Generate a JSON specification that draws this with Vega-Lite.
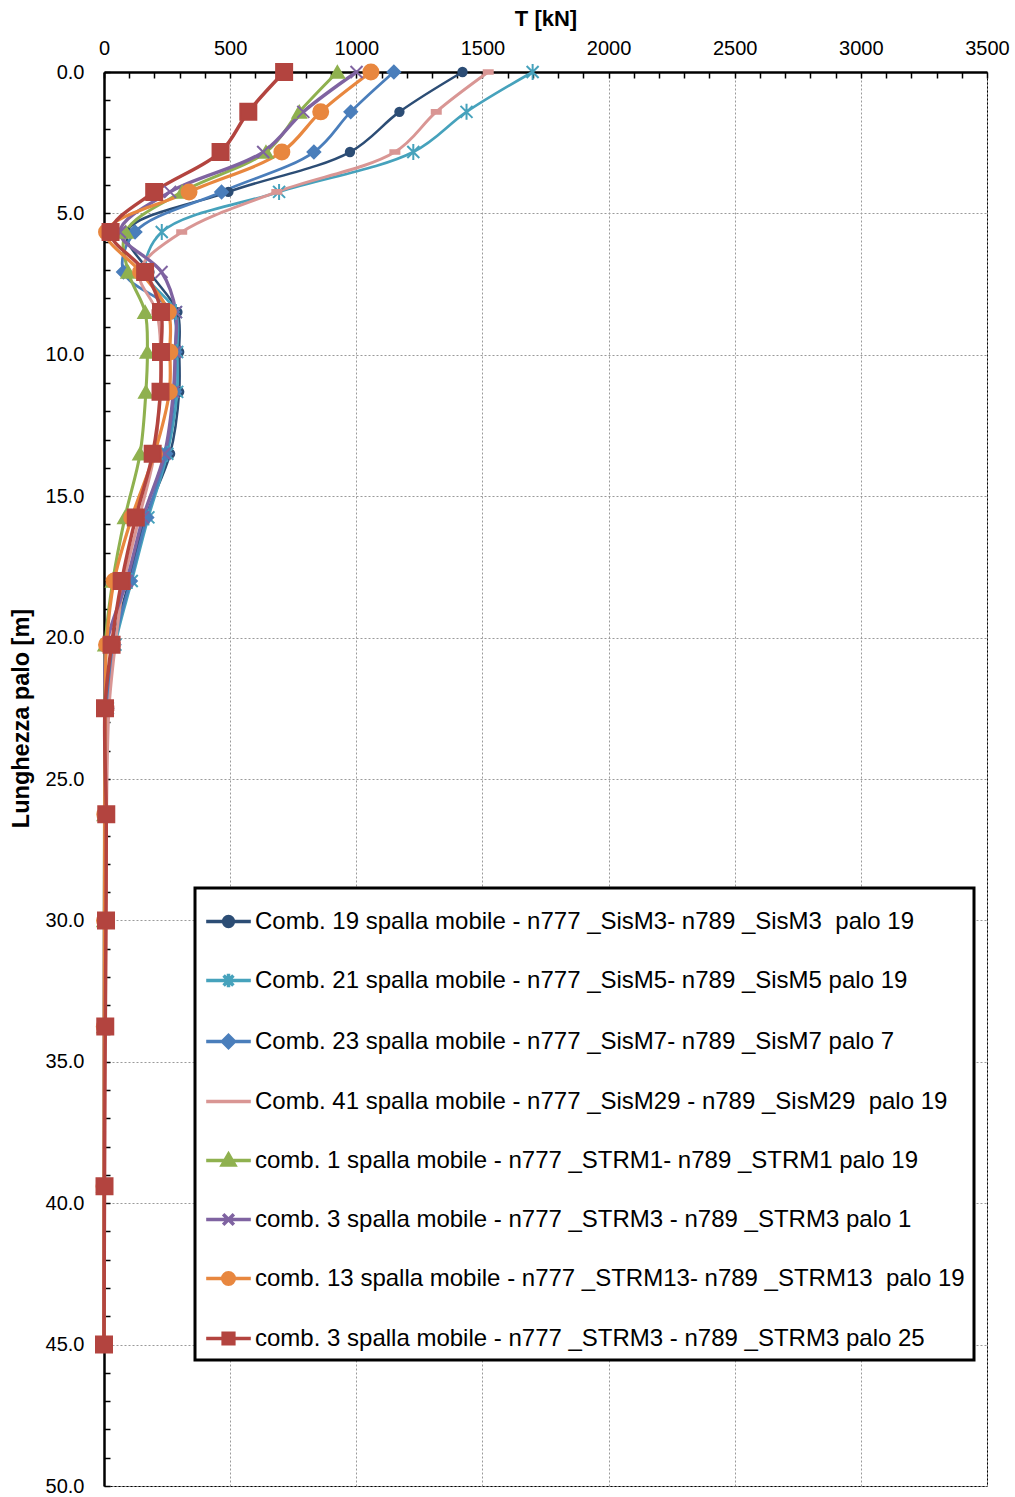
{
  "$schema": "https://vega.github.io/schema/vega-lite/v6.json",
  "width": 883,
  "height": 1414,
  "autosize": {"type": "none"},
  "padding": {"left": 104, "top": 72, "right": 28, "bottom": 11},
  "background": "white",
  "config": {
    "font": "Liberation Sans",
    "view": {"stroke": "#000000", "strokeWidth": 1}
  },
  "datasets": {
    "pts": [
      {"serie": "Comb. 19 spalla mobile - n777 _SisM3- n789 _SisM3\u00a0 palo 19", "depth": 0, "T": 1421},
      {"serie": "Comb. 19 spalla mobile - n777 _SisM3- n789 _SisM3\u00a0 palo 19", "depth": 1.41, "T": 1171},
      {"serie": "Comb. 19 spalla mobile - n777 _SisM3- n789 _SisM3\u00a0 palo 19", "depth": 2.83, "T": 975},
      {"serie": "Comb. 19 spalla mobile - n777 _SisM3- n789 _SisM3\u00a0 palo 19", "depth": 4.24, "T": 493},
      {"serie": "Comb. 19 spalla mobile - n777 _SisM3- n789 _SisM3\u00a0 palo 19", "depth": 5.66, "T": 90},
      {"serie": "Comb. 19 spalla mobile - n777 _SisM3- n789 _SisM3\u00a0 palo 19", "depth": 7.07, "T": 180},
      {"serie": "Comb. 19 spalla mobile - n777 _SisM3- n789 _SisM3\u00a0 palo 19", "depth": 8.49, "T": 291},
      {"serie": "Comb. 19 spalla mobile - n777 _SisM3- n789 _SisM3\u00a0 palo 19", "depth": 9.9, "T": 298},
      {"serie": "Comb. 19 spalla mobile - n777 _SisM3- n789 _SisM3\u00a0 palo 19", "depth": 11.31, "T": 298},
      {"serie": "Comb. 19 spalla mobile - n777 _SisM3- n789 _SisM3\u00a0 palo 19", "depth": 13.5, "T": 262},
      {"serie": "Comb. 19 spalla mobile - n777 _SisM3- n789 _SisM3\u00a0 palo 19", "depth": 15.75, "T": 165},
      {"serie": "Comb. 19 spalla mobile - n777 _SisM3- n789 _SisM3\u00a0 palo 19", "depth": 18.0, "T": 100},
      {"serie": "Comb. 19 spalla mobile - n777 _SisM3- n789 _SisM3\u00a0 palo 19", "depth": 20.25, "T": 35},
      {"serie": "Comb. 19 spalla mobile - n777 _SisM3- n789 _SisM3\u00a0 palo 19", "depth": 22.5, "T": 12},
      {"serie": "Comb. 19 spalla mobile - n777 _SisM3- n789 _SisM3\u00a0 palo 19", "depth": 26.25, "T": 8},
      {"serie": "Comb. 19 spalla mobile - n777 _SisM3- n789 _SisM3\u00a0 palo 19", "depth": 30.0, "T": 5},
      {"serie": "Comb. 19 spalla mobile - n777 _SisM3- n789 _SisM3\u00a0 palo 19", "depth": 33.75, "T": 3},
      {"serie": "Comb. 19 spalla mobile - n777 _SisM3- n789 _SisM3\u00a0 palo 19", "depth": 39.4, "T": 1},
      {"serie": "Comb. 19 spalla mobile - n777 _SisM3- n789 _SisM3\u00a0 palo 19", "depth": 45.0, "T": 0},

      {"serie": "Comb. 21 spalla mobile - n777 _SisM5- n789 _SisM5 palo 19", "depth": 0, "T": 1699},
      {"serie": "Comb. 21 spalla mobile - n777 _SisM5- n789 _SisM5 palo 19", "depth": 1.41, "T": 1437},
      {"serie": "Comb. 21 spalla mobile - n777 _SisM5- n789 _SisM5 palo 19", "depth": 2.83, "T": 1226},
      {"serie": "Comb. 21 spalla mobile - n777 _SisM5- n789 _SisM5 palo 19", "depth": 4.24, "T": 694},
      {"serie": "Comb. 21 spalla mobile - n777 _SisM5- n789 _SisM5 palo 19", "depth": 5.66, "T": 229},
      {"serie": "Comb. 21 spalla mobile - n777 _SisM5- n789 _SisM5 palo 19", "depth": 7.07, "T": 165},
      {"serie": "Comb. 21 spalla mobile - n777 _SisM5- n789 _SisM5 palo 19", "depth": 8.49, "T": 285},
      {"serie": "Comb. 21 spalla mobile - n777 _SisM5- n789 _SisM5 palo 19", "depth": 9.9, "T": 290},
      {"serie": "Comb. 21 spalla mobile - n777 _SisM5- n789 _SisM5 palo 19", "depth": 11.31, "T": 290},
      {"serie": "Comb. 21 spalla mobile - n777 _SisM5- n789 _SisM5 palo 19", "depth": 13.5, "T": 251},
      {"serie": "Comb. 21 spalla mobile - n777 _SisM5- n789 _SisM5 palo 19", "depth": 15.75, "T": 176},
      {"serie": "Comb. 21 spalla mobile - n777 _SisM5- n789 _SisM5 palo 19", "depth": 18.0, "T": 110},
      {"serie": "Comb. 21 spalla mobile - n777 _SisM5- n789 _SisM5 palo 19", "depth": 20.25, "T": 45},
      {"serie": "Comb. 21 spalla mobile - n777 _SisM5- n789 _SisM5 palo 19", "depth": 22.5, "T": 15},
      {"serie": "Comb. 21 spalla mobile - n777 _SisM5- n789 _SisM5 palo 19", "depth": 26.25, "T": 8},
      {"serie": "Comb. 21 spalla mobile - n777 _SisM5- n789 _SisM5 palo 19", "depth": 30.0, "T": 5},
      {"serie": "Comb. 21 spalla mobile - n777 _SisM5- n789 _SisM5 palo 19", "depth": 33.75, "T": 3},
      {"serie": "Comb. 21 spalla mobile - n777 _SisM5- n789 _SisM5 palo 19", "depth": 39.4, "T": 1},
      {"serie": "Comb. 21 spalla mobile - n777 _SisM5- n789 _SisM5 palo 19", "depth": 45.0, "T": 0},

      {"serie": "Comb. 23 spalla mobile - n777 _SisM7- n789 _SisM7 palo 7", "depth": 0, "T": 1149},
      {"serie": "Comb. 23 spalla mobile - n777 _SisM7- n789 _SisM7 palo 7", "depth": 1.41, "T": 978},
      {"serie": "Comb. 23 spalla mobile - n777 _SisM7- n789 _SisM7 palo 7", "depth": 2.83, "T": 832},
      {"serie": "Comb. 23 spalla mobile - n777 _SisM7- n789 _SisM7 palo 7", "depth": 4.24, "T": 466},
      {"serie": "Comb. 23 spalla mobile - n777 _SisM7- n789 _SisM7 palo 7", "depth": 5.66, "T": 123},
      {"serie": "Comb. 23 spalla mobile - n777 _SisM7- n789 _SisM7 palo 7", "depth": 7.07, "T": 77},
      {"serie": "Comb. 23 spalla mobile - n777 _SisM7- n789 _SisM7 palo 7", "depth": 8.49, "T": 272},
      {"serie": "Comb. 23 spalla mobile - n777 _SisM7- n789 _SisM7 palo 7", "depth": 9.9, "T": 282},
      {"serie": "Comb. 23 spalla mobile - n777 _SisM7- n789 _SisM7 palo 7", "depth": 11.31, "T": 280},
      {"serie": "Comb. 23 spalla mobile - n777 _SisM7- n789 _SisM7 palo 7", "depth": 13.5, "T": 245},
      {"serie": "Comb. 23 spalla mobile - n777 _SisM7- n789 _SisM7 palo 7", "depth": 15.75, "T": 170},
      {"serie": "Comb. 23 spalla mobile - n777 _SisM7- n789 _SisM7 palo 7", "depth": 18.0, "T": 105},
      {"serie": "Comb. 23 spalla mobile - n777 _SisM7- n789 _SisM7 palo 7", "depth": 20.25, "T": 40},
      {"serie": "Comb. 23 spalla mobile - n777 _SisM7- n789 _SisM7 palo 7", "depth": 22.5, "T": 12},
      {"serie": "Comb. 23 spalla mobile - n777 _SisM7- n789 _SisM7 palo 7", "depth": 26.25, "T": 8},
      {"serie": "Comb. 23 spalla mobile - n777 _SisM7- n789 _SisM7 palo 7", "depth": 30.0, "T": 5},
      {"serie": "Comb. 23 spalla mobile - n777 _SisM7- n789 _SisM7 palo 7", "depth": 33.75, "T": 3},
      {"serie": "Comb. 23 spalla mobile - n777 _SisM7- n789 _SisM7 palo 7", "depth": 39.4, "T": 1},
      {"serie": "Comb. 23 spalla mobile - n777 _SisM7- n789 _SisM7 palo 7", "depth": 45.0, "T": 0},

      {"serie": "Comb. 41 spalla mobile - n777 _SisM29 - n789 _SisM29\u00a0 palo 19", "depth": 0, "T": 1523},
      {"serie": "Comb. 41 spalla mobile - n777 _SisM29 - n789 _SisM29\u00a0 palo 19", "depth": 1.41, "T": 1317},
      {"serie": "Comb. 41 spalla mobile - n777 _SisM29 - n789 _SisM29\u00a0 palo 19", "depth": 2.83, "T": 1153},
      {"serie": "Comb. 41 spalla mobile - n777 _SisM29 - n789 _SisM29\u00a0 palo 19", "depth": 4.24, "T": 685},
      {"serie": "Comb. 41 spalla mobile - n777 _SisM29 - n789 _SisM29\u00a0 palo 19", "depth": 5.66, "T": 308},
      {"serie": "Comb. 41 spalla mobile - n777 _SisM29 - n789 _SisM29\u00a0 palo 19", "depth": 7.07, "T": 140},
      {"serie": "Comb. 41 spalla mobile - n777 _SisM29 - n789 _SisM29\u00a0 palo 19", "depth": 8.49, "T": 209},
      {"serie": "Comb. 41 spalla mobile - n777 _SisM29 - n789 _SisM29\u00a0 palo 19", "depth": 9.9, "T": 225},
      {"serie": "Comb. 41 spalla mobile - n777 _SisM29 - n789 _SisM29\u00a0 palo 19", "depth": 11.31, "T": 222},
      {"serie": "Comb. 41 spalla mobile - n777 _SisM29 - n789 _SisM29\u00a0 palo 19", "depth": 13.5, "T": 200},
      {"serie": "Comb. 41 spalla mobile - n777 _SisM29 - n789 _SisM29\u00a0 palo 19", "depth": 15.75, "T": 140},
      {"serie": "Comb. 41 spalla mobile - n777 _SisM29 - n789 _SisM29\u00a0 palo 19", "depth": 18.0, "T": 80},
      {"serie": "Comb. 41 spalla mobile - n777 _SisM29 - n789 _SisM29\u00a0 palo 19", "depth": 20.25, "T": 45},
      {"serie": "Comb. 41 spalla mobile - n777 _SisM29 - n789 _SisM29\u00a0 palo 19", "depth": 22.5, "T": 20},
      {"serie": "Comb. 41 spalla mobile - n777 _SisM29 - n789 _SisM29\u00a0 palo 19", "depth": 26.25, "T": 10},
      {"serie": "Comb. 41 spalla mobile - n777 _SisM29 - n789 _SisM29\u00a0 palo 19", "depth": 30.0, "T": 5},
      {"serie": "Comb. 41 spalla mobile - n777 _SisM29 - n789 _SisM29\u00a0 palo 19", "depth": 33.75, "T": 3},
      {"serie": "Comb. 41 spalla mobile - n777 _SisM29 - n789 _SisM29\u00a0 palo 19", "depth": 39.4, "T": 1},
      {"serie": "Comb. 41 spalla mobile - n777 _SisM29 - n789 _SisM29\u00a0 palo 19", "depth": 45.0, "T": 0},

      {"serie": "comb. 1 spalla mobile - n777 _STRM1- n789 _STRM1 palo 19", "depth": 0, "T": 925},
      {"serie": "comb. 1 spalla mobile - n777 _STRM1- n789 _STRM1 palo 19", "depth": 1.41, "T": 774},
      {"serie": "comb. 1 spalla mobile - n777 _STRM1- n789 _STRM1 palo 19", "depth": 2.83, "T": 642},
      {"serie": "comb. 1 spalla mobile - n777 _STRM1- n789 _STRM1 palo 19", "depth": 4.24, "T": 310},
      {"serie": "comb. 1 spalla mobile - n777 _STRM1- n789 _STRM1 palo 19", "depth": 5.66, "T": 86},
      {"serie": "comb. 1 spalla mobile - n777 _STRM1- n789 _STRM1 palo 19", "depth": 7.07, "T": 96},
      {"serie": "comb. 1 spalla mobile - n777 _STRM1- n789 _STRM1 palo 19", "depth": 8.49, "T": 163},
      {"serie": "comb. 1 spalla mobile - n777 _STRM1- n789 _STRM1 palo 19", "depth": 9.9, "T": 172},
      {"serie": "comb. 1 spalla mobile - n777 _STRM1- n789 _STRM1 palo 19", "depth": 11.31, "T": 166},
      {"serie": "comb. 1 spalla mobile - n777 _STRM1- n789 _STRM1 palo 19", "depth": 13.5, "T": 143},
      {"serie": "comb. 1 spalla mobile - n777 _STRM1- n789 _STRM1 palo 19", "depth": 15.75, "T": 83},
      {"serie": "comb. 1 spalla mobile - n777 _STRM1- n789 _STRM1 palo 19", "depth": 18.0, "T": 35},
      {"serie": "comb. 1 spalla mobile - n777 _STRM1- n789 _STRM1 palo 19", "depth": 20.25, "T": 5},
      {"serie": "comb. 1 spalla mobile - n777 _STRM1- n789 _STRM1 palo 19", "depth": 22.5, "T": 3},
      {"serie": "comb. 1 spalla mobile - n777 _STRM1- n789 _STRM1 palo 19", "depth": 26.25, "T": 2},
      {"serie": "comb. 1 spalla mobile - n777 _STRM1- n789 _STRM1 palo 19", "depth": 30.0, "T": 1},
      {"serie": "comb. 1 spalla mobile - n777 _STRM1- n789 _STRM1 palo 19", "depth": 33.75, "T": 1},
      {"serie": "comb. 1 spalla mobile - n777 _STRM1- n789 _STRM1 palo 19", "depth": 39.4, "T": 0},
      {"serie": "comb. 1 spalla mobile - n777 _STRM1- n789 _STRM1 palo 19", "depth": 45.0, "T": 0},

      {"serie": "comb. 3 spalla mobile - n777 _STRM3 - n789 _STRM3 palo 1", "depth": 0, "T": 1001},
      {"serie": "comb. 3 spalla mobile - n777 _STRM3 - n789 _STRM3 palo 1", "depth": 1.41, "T": 790},
      {"serie": "comb. 3 spalla mobile - n777 _STRM3 - n789 _STRM3 palo 1", "depth": 2.83, "T": 631},
      {"serie": "comb. 3 spalla mobile - n777 _STRM3 - n789 _STRM3 palo 1", "depth": 4.24, "T": 262},
      {"serie": "comb. 3 spalla mobile - n777 _STRM3 - n789 _STRM3 palo 1", "depth": 5.66, "T": 63},
      {"serie": "comb. 3 spalla mobile - n777 _STRM3 - n789 _STRM3 palo 1", "depth": 7.07, "T": 228},
      {"serie": "comb. 3 spalla mobile - n777 _STRM3 - n789 _STRM3 palo 1", "depth": 8.49, "T": 285},
      {"serie": "comb. 3 spalla mobile - n777 _STRM3 - n789 _STRM3 palo 1", "depth": 9.9, "T": 282},
      {"serie": "comb. 3 spalla mobile - n777 _STRM3 - n789 _STRM3 palo 1", "depth": 11.31, "T": 275},
      {"serie": "comb. 3 spalla mobile - n777 _STRM3 - n789 _STRM3 palo 1", "depth": 13.5, "T": 240},
      {"serie": "comb. 3 spalla mobile - n777 _STRM3 - n789 _STRM3 palo 1", "depth": 15.75, "T": 155},
      {"serie": "comb. 3 spalla mobile - n777 _STRM3 - n789 _STRM3 palo 1", "depth": 18.0, "T": 90},
      {"serie": "comb. 3 spalla mobile - n777 _STRM3 - n789 _STRM3 palo 1", "depth": 20.25, "T": 10},
      {"serie": "comb. 3 spalla mobile - n777 _STRM3 - n789 _STRM3 palo 1", "depth": 22.5, "T": 5},
      {"serie": "comb. 3 spalla mobile - n777 _STRM3 - n789 _STRM3 palo 1", "depth": 26.25, "T": 3},
      {"serie": "comb. 3 spalla mobile - n777 _STRM3 - n789 _STRM3 palo 1", "depth": 30.0, "T": 2},
      {"serie": "comb. 3 spalla mobile - n777 _STRM3 - n789 _STRM3 palo 1", "depth": 33.75, "T": 1},
      {"serie": "comb. 3 spalla mobile - n777 _STRM3 - n789 _STRM3 palo 1", "depth": 39.4, "T": 0},
      {"serie": "comb. 3 spalla mobile - n777 _STRM3 - n789 _STRM3 palo 1", "depth": 45.0, "T": 0},

      {"serie": "comb. 13 spalla mobile - n777 _STRM13- n789 _STRM13\u00a0 palo 19", "depth": 0, "T": 1058},
      {"serie": "comb. 13 spalla mobile - n777 _STRM13- n789 _STRM13\u00a0 palo 19", "depth": 1.41, "T": 859},
      {"serie": "comb. 13 spalla mobile - n777 _STRM13- n789 _STRM13\u00a0 palo 19", "depth": 2.83, "T": 705},
      {"serie": "comb. 13 spalla mobile - n777 _STRM13- n789 _STRM13\u00a0 palo 19", "depth": 4.24, "T": 337},
      {"serie": "comb. 13 spalla mobile - n777 _STRM13- n789 _STRM13\u00a0 palo 19", "depth": 5.66, "T": 10},
      {"serie": "comb. 13 spalla mobile - n777 _STRM13- n789 _STRM13\u00a0 palo 19", "depth": 7.07, "T": 145},
      {"serie": "comb. 13 spalla mobile - n777 _STRM13- n789 _STRM13\u00a0 palo 19", "depth": 8.49, "T": 255},
      {"serie": "comb. 13 spalla mobile - n777 _STRM13- n789 _STRM13\u00a0 palo 19", "depth": 9.9, "T": 261},
      {"serie": "comb. 13 spalla mobile - n777 _STRM13- n789 _STRM13\u00a0 palo 19", "depth": 11.31, "T": 259},
      {"serie": "comb. 13 spalla mobile - n777 _STRM13- n789 _STRM13\u00a0 palo 19", "depth": 13.5, "T": 200},
      {"serie": "comb. 13 spalla mobile - n777 _STRM13- n789 _STRM13\u00a0 palo 19", "depth": 15.75, "T": 110},
      {"serie": "comb. 13 spalla mobile - n777 _STRM13- n789 _STRM13\u00a0 palo 19", "depth": 18.0, "T": 40},
      {"serie": "comb. 13 spalla mobile - n777 _STRM13- n789 _STRM13\u00a0 palo 19", "depth": 20.25, "T": 10},
      {"serie": "comb. 13 spalla mobile - n777 _STRM13- n789 _STRM13\u00a0 palo 19", "depth": 22.5, "T": 5},
      {"serie": "comb. 13 spalla mobile - n777 _STRM13- n789 _STRM13\u00a0 palo 19", "depth": 26.25, "T": 3},
      {"serie": "comb. 13 spalla mobile - n777 _STRM13- n789 _STRM13\u00a0 palo 19", "depth": 30.0, "T": 2},
      {"serie": "comb. 13 spalla mobile - n777 _STRM13- n789 _STRM13\u00a0 palo 19", "depth": 33.75, "T": 1},
      {"serie": "comb. 13 spalla mobile - n777 _STRM13- n789 _STRM13\u00a0 palo 19", "depth": 39.4, "T": 0},
      {"serie": "comb. 13 spalla mobile - n777 _STRM13- n789 _STRM13\u00a0 palo 19", "depth": 45.0, "T": 0},

      {"serie": "comb. 3 spalla mobile - n777 _STRM3 - n789 _STRM3 palo 25", "depth": 0, "T": 714},
      {"serie": "comb. 3 spalla mobile - n777 _STRM3 - n789 _STRM3 palo 25", "depth": 1.41, "T": 572},
      {"serie": "comb. 3 spalla mobile - n777 _STRM3 - n789 _STRM3 palo 25", "depth": 2.83, "T": 462},
      {"serie": "comb. 3 spalla mobile - n777 _STRM3 - n789 _STRM3 palo 25", "depth": 4.24, "T": 199},
      {"serie": "comb. 3 spalla mobile - n777 _STRM3 - n789 _STRM3 palo 25", "depth": 5.66, "T": 26},
      {"serie": "comb. 3 spalla mobile - n777 _STRM3 - n789 _STRM3 palo 25", "depth": 7.07, "T": 163},
      {"serie": "comb. 3 spalla mobile - n777 _STRM3 - n789 _STRM3 palo 25", "depth": 8.49, "T": 226},
      {"serie": "comb. 3 spalla mobile - n777 _STRM3 - n789 _STRM3 palo 25", "depth": 9.9, "T": 226},
      {"serie": "comb. 3 spalla mobile - n777 _STRM3 - n789 _STRM3 palo 25", "depth": 11.31, "T": 224},
      {"serie": "comb. 3 spalla mobile - n777 _STRM3 - n789 _STRM3 palo 25", "depth": 13.5, "T": 193},
      {"serie": "comb. 3 spalla mobile - n777 _STRM3 - n789 _STRM3 palo 25", "depth": 15.75, "T": 126},
      {"serie": "comb. 3 spalla mobile - n777 _STRM3 - n789 _STRM3 palo 25", "depth": 18.0, "T": 70},
      {"serie": "comb. 3 spalla mobile - n777 _STRM3 - n789 _STRM3 palo 25", "depth": 20.25, "T": 30},
      {"serie": "comb. 3 spalla mobile - n777 _STRM3 - n789 _STRM3 palo 25", "depth": 22.5, "T": 4},
      {"serie": "comb. 3 spalla mobile - n777 _STRM3 - n789 _STRM3 palo 25", "depth": 26.25, "T": 9},
      {"serie": "comb. 3 spalla mobile - n777 _STRM3 - n789 _STRM3 palo 25", "depth": 30.0, "T": 8},
      {"serie": "comb. 3 spalla mobile - n777 _STRM3 - n789 _STRM3 palo 25", "depth": 33.75, "T": 5},
      {"serie": "comb. 3 spalla mobile - n777 _STRM3 - n789 _STRM3 palo 25", "depth": 39.4, "T": 2},
      {"serie": "comb. 3 spalla mobile - n777 _STRM3 - n789 _STRM3 palo 25", "depth": 45.0, "T": 0}
    ]
  },
  "data": {"name": "pts"},
  "encoding": {
    "x": {
      "field": "T", "type": "quantitative",
      "scale": {"domain": [0, 3500], "nice": false, "zero": false},
      "axis": {
        "orient": "top",
        "title": "T [kN]",
        "titleFontSize": 22, "titleFontWeight": "bold", "titleColor": "#000000",
        "titleY": -54, "titleBaseline": "middle",
        "values": [0,100,200,300,400,500,600,700,800,900,1000,1100,1200,1300,1400,1500,1600,1700,1800,1900,2000,2100,2200,2300,2400,2500,2600,2700,2800,2900,3000,3100,3200,3300,3400,3500],
        "labelExpr": "datum.value % 500 === 0 ? format(datum.value, 'd') : ''",
        "labelFontSize": 20, "labelColor": "#000000", "labelPadding": 20,
        "labelFlush": false, "labelOverlap": false,
        "tickSize": -6, "tickColor": "#000000", "tickWidth": 1.5,
        "domainColor": "#000000", "domainWidth": 2.5,
        "grid": true, "gridColor": "#9a9a9a", "gridDash": [2, 2], "gridWidth": 1,
        "gridOpacity": {"condition": {"test": "datum.value % 500 === 0", "value": 1}, "value": 0}
      }
    },
    "y": {
      "field": "depth", "type": "quantitative",
      "scale": {"domain": [0, 50], "reverse": true, "nice": false, "zero": false},
      "axis": {
        "orient": "left",
        "title": "Lunghezza palo [m]",
        "titleFontSize": 23.5, "titleFontWeight": "bold", "titleColor": "#000000",
        "titleX": -83, "titleY": 646, "titleBaseline": "middle", "titleAngle": -90,
        "values": [0,1,2,3,4,5,6,7,8,9,10,11,12,13,14,15,16,17,18,19,20,21,22,23,24,25,26,27,28,29,30,31,32,33,34,35,36,37,38,39,40,41,42,43,44,45,46,47,48,49,50],
        "labelExpr": "datum.value % 5 === 0 ? format(datum.value, '.1f') : ''",
        "labelFontSize": 20, "labelColor": "#000000", "labelPadding": 26,
        "labelFlush": false, "labelOverlap": false,
        "tickSize": -6, "tickColor": "#000000", "tickWidth": 1.5,
        "domainColor": "#000000", "domainWidth": 2.5,
        "grid": true, "gridColor": "#9a9a9a", "gridDash": [2, 2], "gridWidth": 1,
        "gridOpacity": {"condition": {"test": "datum.value % 5 === 0", "value": 1}, "value": 0}
      }
    }
  },
  "layer": [
    {
      "mark": {"type": "line", "interpolate": "catmull-rom", "strokeJoin": "round", "strokeCap": "round"},
      "encoding": {
        "order": {"field": "depth", "type": "quantitative"},
        "color": {
          "field": "serie", "type": "nominal",
          "scale": {
            "domain": [
              "Comb. 19 spalla mobile - n777 _SisM3- n789 _SisM3\u00a0 palo 19",
              "Comb. 21 spalla mobile - n777 _SisM5- n789 _SisM5 palo 19",
              "Comb. 23 spalla mobile - n777 _SisM7- n789 _SisM7 palo 7",
              "Comb. 41 spalla mobile - n777 _SisM29 - n789 _SisM29\u00a0 palo 19",
              "comb. 1 spalla mobile - n777 _STRM1- n789 _STRM1 palo 19",
              "comb. 3 spalla mobile - n777 _STRM3 - n789 _STRM3 palo 1",
              "comb. 13 spalla mobile - n777 _STRM13- n789 _STRM13\u00a0 palo 19",
              "comb. 3 spalla mobile - n777 _STRM3 - n789 _STRM3 palo 25"
            ],
            "range": ["#2C4D75", "#46A2BC", "#4A7EBB", "#D99694", "#8FB14F", "#7F63A1", "#E8873F", "#B3443F"]
          },
          "legend": {
            "orient": "none", "legendX": 91, "legendY": 816,
            "title": null,
            "strokeColor": "#000000", "fillColor": "#ffffff",
            "padding": 9, "rowPadding": 22,
            "labelFontSize": 24, "labelColor": "#000000", "labelLimit": 1000, "labelOffset": 2,
            "symbolSize": 1990,
            "encode": {
              "legend": {"update": {"strokeWidth": {"value": 3}}},
              "symbols": {
                "update": {
                  "shape": {"signal": "['M-1,0H1M-0.22,0A0.22,0.22 0 1,0 0.22,0A0.22,0.22 0 1,0 -0.22,0Z','M-1,0H1M-0.22,-0.22L0.22,0.22M-0.22,0.22L0.22,-0.22M0,-0.3V0.3','M-1,0H1M-0.27,0L0,-0.27L0.27,0L0,0.27Z','M-1,0H1','M-1,0H1M0,-0.28L0.28,0.2L-0.28,0.2Z','M-1,0H1M-0.24,-0.24L0.24,0.24M-0.24,0.24L0.24,-0.24','M-1,0H1M-0.26,0A0.26,0.26 0 1,0 0.26,0A0.26,0.26 0 1,0 -0.26,0Z','M-1,0H1M-0.24,-0.24H0.24V0.24H-0.24Z'][datum.index]"},
                  "size": {"value": 1990},
                  "fill": {"signal": "scale('color', datum.value)"},
                  "stroke": {"signal": "scale('color', datum.value)"},
                  "strokeWidth": {"value": 3.5},
                  "opacity": {"value": 1},
                  "fillOpacity": {"value": 1},
                  "strokeOpacity": {"value": 1}
                }
              }
            }
          }
        },
        "strokeWidth": {
          "field": "serie", "type": "nominal",
          "scale": {
            "domain": [
              "Comb. 19 spalla mobile - n777 _SisM3- n789 _SisM3\u00a0 palo 19",
              "Comb. 21 spalla mobile - n777 _SisM5- n789 _SisM5 palo 19",
              "Comb. 23 spalla mobile - n777 _SisM7- n789 _SisM7 palo 7",
              "Comb. 41 spalla mobile - n777 _SisM29 - n789 _SisM29\u00a0 palo 19",
              "comb. 1 spalla mobile - n777 _STRM1- n789 _STRM1 palo 19",
              "comb. 13 spalla mobile - n777 _STRM13- n789 _STRM13\u00a0 palo 19",
              "comb. 3 spalla mobile - n777 _STRM3 - n789 _STRM3 palo 1",
              "comb. 3 spalla mobile - n777 _STRM3 - n789 _STRM3 palo 25"
            ],
            "range": [2.5, 3.5, 3.5, 4, 3.5, 3.5, 3.5, 3.5]
          },
          "legend": null
        }
      }
    },
    {
      "mark": {"type": "point", "filled": true, "strokeWidth": 2, "opacity": 1},
      "encoding": {
        "color": {"field": "serie", "type": "nominal", "legend": null},
        "shape": {
          "field": "serie", "type": "nominal",
          "scale": {
            "domain": [
              "Comb. 19 spalla mobile - n777 _SisM3- n789 _SisM3\u00a0 palo 19",
              "Comb. 21 spalla mobile - n777 _SisM5- n789 _SisM5 palo 19",
              "Comb. 23 spalla mobile - n777 _SisM7- n789 _SisM7 palo 7",
              "Comb. 41 spalla mobile - n777 _SisM29 - n789 _SisM29\u00a0 palo 19",
              "comb. 1 spalla mobile - n777 _STRM1- n789 _STRM1 palo 19",
              "comb. 13 spalla mobile - n777 _STRM13- n789 _STRM13\u00a0 palo 19",
              "comb. 3 spalla mobile - n777 _STRM3 - n789 _STRM3 palo 1",
              "comb. 3 spalla mobile - n777 _STRM3 - n789 _STRM3 palo 25"
            ],
            "range": ["circle", "M-0.75,-0.75L0.75,0.75M-0.75,0.75L0.75,-0.75M0,-1V1", "diamond", "M-1,-0.4H1V0.4H-1Z", "triangle-up", "circle", "M-1,-1L1,1M-1,1L1,-1", "square"]
          },
          "legend": null
        },
        "size": {
          "field": "serie", "type": "nominal",
          "scale": {
            "type": "ordinal",
            "domain": [
              "Comb. 19 spalla mobile - n777 _SisM3- n789 _SisM3\u00a0 palo 19",
              "Comb. 21 spalla mobile - n777 _SisM5- n789 _SisM5 palo 19",
              "Comb. 23 spalla mobile - n777 _SisM7- n789 _SisM7 palo 7",
              "Comb. 41 spalla mobile - n777 _SisM29 - n789 _SisM29\u00a0 palo 19",
              "comb. 1 spalla mobile - n777 _STRM1- n789 _STRM1 palo 19",
              "comb. 13 spalla mobile - n777 _STRM13- n789 _STRM13\u00a0 palo 19",
              "comb. 3 spalla mobile - n777 _STRM3 - n789 _STRM3 palo 1",
              "comb. 3 spalla mobile - n777 _STRM3 - n789 _STRM3 palo 25"
            ],
            "range": [70, 256, 160, 81, 180, 225, 144, 256]
          },
          "legend": null
        },
        "stroke": {
          "field": "serie", "type": "nominal",
          "scale": {
            "domain": [
              "Comb. 19 spalla mobile - n777 _SisM3- n789 _SisM3\u00a0 palo 19",
              "Comb. 21 spalla mobile - n777 _SisM5- n789 _SisM5 palo 19",
              "Comb. 23 spalla mobile - n777 _SisM7- n789 _SisM7 palo 7",
              "Comb. 41 spalla mobile - n777 _SisM29 - n789 _SisM29\u00a0 palo 19",
              "comb. 1 spalla mobile - n777 _STRM1- n789 _STRM1 palo 19",
              "comb. 13 spalla mobile - n777 _STRM13- n789 _STRM13\u00a0 palo 19",
              "comb. 3 spalla mobile - n777 _STRM3 - n789 _STRM3 palo 1",
              "comb. 3 spalla mobile - n777 _STRM3 - n789 _STRM3 palo 25"
            ],
            "range": ["#2C4D75", "#46A2BC", "#4A7EBB", "#D99694", "#8FB14F", "#E8873F", "#7F63A1", "#B3443F"]
          },
          "legend": null
        }
      }
    }
  ]
}
